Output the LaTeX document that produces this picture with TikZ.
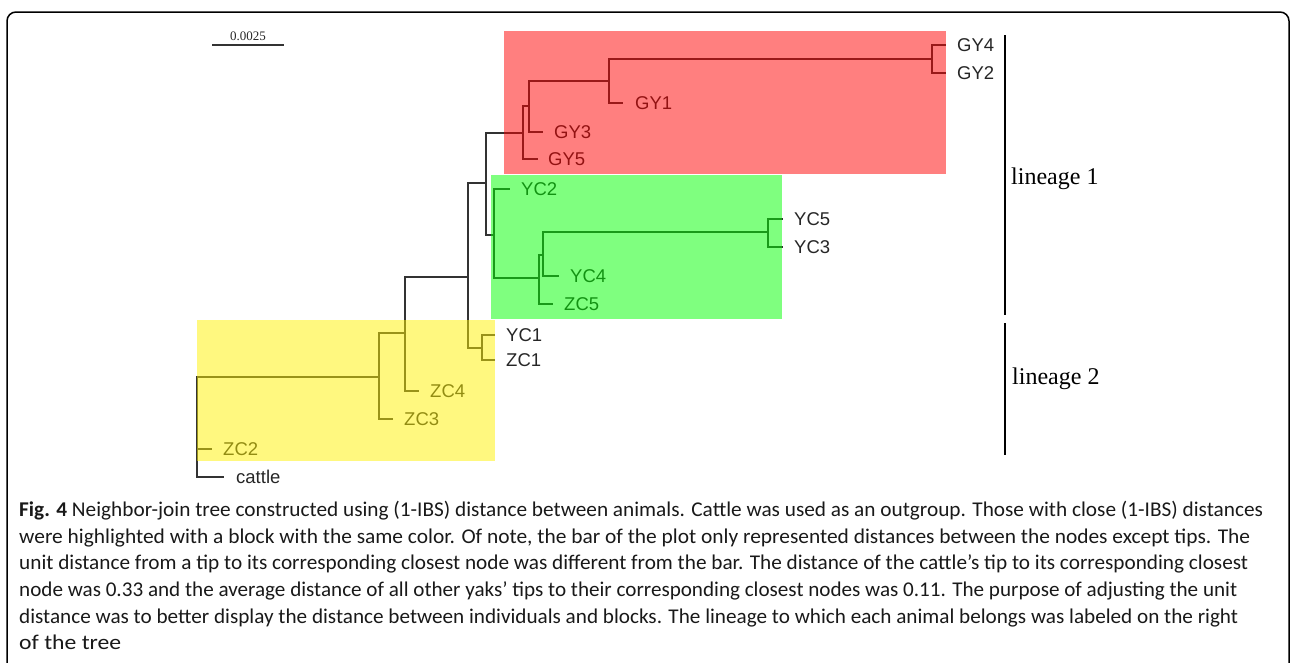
\documentclass[tikz,border=0pt]{standalone}
\usepackage{fontspec}
\usepackage{graphicx}
\setmainfont{Liberation Serif}
\newfontfamily\tipfont{Liberation Sans}
\newfontfamily\capfont{Carlito}
\newcommand\tipsz{\tipfont\fontsize{18.5pt}{20pt}\selectfont}
\newcommand\capsz{\capfont\fontsize{21pt}{24pt}\selectfont}
\tikzset{
  branch/.style={draw=black!80, line width=1.8pt},
  lab/.style={anchor=west, inner sep=0pt, font=\tipsz, text=black!85},
  capl/.style={anchor=base west, inner sep=0pt, font=\capsz, text=black!90},
  block/.style={fill opacity=0.5, draw=none},
  lineagebar/.style={draw=black, line width=2.4pt},
  lintext/.style={anchor=base west, inner sep=0pt, font=\fontsize{24pt}{26pt}\selectfont}
}
\begin{document}
\begin{tikzpicture}[x=1pt,y=-1pt]
\useasboundingbox (0,0) rectangle (1290,662);
\begin{scope}
  \clip (0,0) rectangle (1290,662);
  \draw[line width=1.5pt, rounded corners=9pt] (7,12) rectangle (1289,720);
\end{scope}

% scale bar
\coordinate (sb1) at (212,45);
\coordinate (sb2) at (284,45);
\draw[line width=1.6pt, black!80] (sb1) -- (sb2);
\node[anchor=base, inner sep=0pt, font=\fontsize{13pt}{14pt}\selectfont, text=black!85] (sbl) at (248,40) {0.0025};

% internal nodes
\coordinate (nGY42) at (932,59);
\coordinate (nGY1) at (609,81);
\coordinate (nGY3) at (529,106);
\coordinate (nRed) at (523,133);
\coordinate (nA) at (486,183);
\coordinate (nYC53) at (768,232);
\coordinate (nYC4) at (543,255);
\coordinate (nZC5) at (539,278);
\coordinate (nGreen) at (494,235);
\coordinate (nB) at (468,277);
\coordinate (nYZ1) at (482,348);
\coordinate (nZC4) at (405,333);
\coordinate (nZC3) at (379,377);
\coordinate (nRoot) at (197,427);

% tips
\coordinate (tGY4) at (946,45);
\coordinate (tGY2) at (946,73);
\coordinate (tGY1) at (623,103);
\coordinate (tGY3) at (543,132);
\coordinate (tGY5) at (538,159);
\coordinate (tYC2) at (510,189);
\coordinate (tYC5) at (783,219);
\coordinate (tYC3) at (783,247);
\coordinate (tYC4) at (559,276);
\coordinate (tZC5) at (553,304);
\coordinate (tYC1) at (495,335);
\coordinate (tZC1) at (495,360);
\coordinate (tZC4) at (419,391);
\coordinate (tZC3) at (393,419);
\coordinate (tZC2) at (212,449);
\coordinate (tcattle) at (224,477);

% branches
\draw[branch] (nGY42) |- (tGY4);
\draw[branch] (nGY42) |- (tGY2);
\draw[branch] (nGY1) |- (nGY42);
\draw[branch] (nGY1) |- (tGY1);
\draw[branch] (nGY3) |- (nGY1);
\draw[branch] (nGY3) |- (tGY3);
\draw[branch] (nRed) |- (nGY3);
\draw[branch] (nRed) |- (tGY5);
\draw[branch] (nA) |- (nRed);
\draw[branch] (nA) |- (nGreen);
\draw[branch] (nYC53) |- (tYC5);
\draw[branch] (nYC53) |- (tYC3);
\draw[branch] (nYC4) |- (nYC53);
\draw[branch] (nYC4) |- (tYC4);
\draw[branch] (nZC5) |- (nYC4);
\draw[branch] (nZC5) |- (tZC5);
\draw[branch] (nGreen) |- (tYC2);
\draw[branch] (nGreen) |- (nZC5);
\draw[branch] (nB) |- (nA);
\draw[branch] (nB) |- (nYZ1);
\draw[branch] (nYZ1) |- (tYC1);
\draw[branch] (nYZ1) |- (tZC1);
\draw[branch] (nZC4) |- (nB);
\draw[branch] (nZC4) |- (tZC4);
\draw[branch] (nZC3) |- (nZC4);
\draw[branch] (nZC3) |- (tZC3);
\draw[branch] (nRoot) |- (nZC3);
\draw[branch] (nRoot) |- (tZC2);
\draw[branch] (nRoot) |- (tcattle);

% tip labels
\node[lab] (GY4) at ([xshift=11pt]tGY4) {GY4};
\node[lab] (GY2) at ([xshift=11pt]tGY2) {GY2};
\node[lab] (GY1) at ([xshift=12pt]tGY1) {GY1};
\node[lab] (GY3) at ([xshift=11pt]tGY3) {GY3};
\node[lab] (GY5) at ([xshift=10pt]tGY5) {GY5};
\node[lab] (YC2) at ([xshift=11pt]tYC2) {YC2};
\node[lab] (YC5) at ([xshift=11pt]tYC5) {YC5};
\node[lab] (YC3) at ([xshift=11pt]tYC3) {YC3};
\node[lab] (YC4) at ([xshift=11pt]tYC4) {YC4};
\node[lab] (ZC5) at ([xshift=11pt]tZC5) {ZC5};
\node[lab] (YC1) at ([xshift=11pt]tYC1) {YC1};
\node[lab] (ZC1) at ([xshift=11pt]tZC1) {ZC1};
\node[lab] (ZC4) at ([xshift=11pt]tZC4) {ZC4};
\node[lab] (ZC3) at ([xshift=11pt]tZC3) {ZC3};
\node[lab] (ZC2) at ([xshift=11pt]tZC2) {ZC2};
\node[lab] (cattle) at ([xshift=12pt]tcattle) {cattle};

% coloured blocks (translucent overlays)
\fill[block, red] (504,31) rectangle (946,174);
\fill[block, green] (491,175) rectangle (782,319);
\fill[block, yellow] (197,320) rectangle (495,461);

% lineage bars
\coordinate (l1a) at (1005,35);
\coordinate (l1b) at (1005,315);
\coordinate (l2a) at (1005,323);
\coordinate (l2b) at (1005,455);
\draw[lineagebar] (l1a) -- (l1b);
\draw[lineagebar] (l2a) -- (l2b);
\node[lintext] (lin1) at (1011,184) {lineage 1};
\node[lintext] (lin2) at (1012,384) {lineage 2};

% caption
\node[capl] (cap1) at (19,516) {\resizebox{1244pt}{\height}{\textbf{Fig. 4} Neighbor-join tree constructed using (1-IBS) distance between animals. Cattle was used as an outgroup. Those with close (1-IBS) distances}};
\node[capl] (cap2) at (19,543) {\resizebox{1231pt}{\height}{were highlighted with a block with the same color. Of note, the bar of the plot only represented distances between the nodes except tips. The}};
\node[capl] (cap3) at (19,569) {\resizebox{1229pt}{\height}{unit distance from a tip to its corresponding closest node was different from the bar. The distance of the cattle’s tip to its corresponding closest}};
\node[capl] (cap4) at (19,596) {\resizebox{1218pt}{\height}{node was 0.33 and the average distance of all other yaks’ tips to their corresponding closest nodes was 0.11. The purpose of adjusting the unit}};
\node[capl] (cap5) at (19,623) {\resizebox{1219pt}{\height}{distance was to better display the distance between individuals and blocks. The lineage to which each animal belongs was labeled on the right}};
\node[capl] (cap6) at (19,649) {\resizebox{102pt}{\height}{of the tree}};
\end{tikzpicture}
\end{document}
